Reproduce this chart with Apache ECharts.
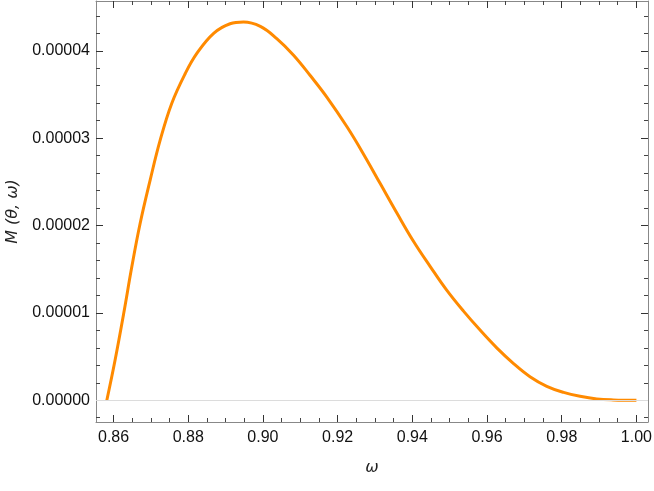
<!DOCTYPE html>
<html lang="en">
<head>
    <meta charset="UTF-8">
    <title>M(theta, omega)</title>
    <script src="https://cdn.jsdelivr.net/npm/echarts@6.0.0/dist/echarts.min.js"></script>
</head>
<body style="margin: 0; background: #fff;">
<div id="container" style="width: 654px; height: 491px;"></div>
<script type="text/javascript">

    // values (omega, M)
    let omega = [0.8582, 0.8604, 0.8627, 0.8649, 0.8671, 0.8698, 0.8725, 0.8756, 0.8792, 0.8823,
        0.8868, 0.8912, 0.8948, 0.8993, 0.9037, 0.9082, 0.9126, 0.9171, 0.9225, 0.9269,
        0.9314, 0.9359, 0.9403, 0.9448, 0.9492, 0.9537, 0.9582, 0.9626, 0.9671, 0.9715,
        0.9760, 0.9805, 0.9849, 0.9894, 0.9938, 1.0000];
    let mValues = [0, 0.458e-5, 0.99e-5, 1.53e-5, 2.02e-5, 2.52e-5, 2.98e-5, 3.40e-5, 3.74e-5, 3.97e-5,
        4.20e-5, 4.31e-5, 4.33e-5, 4.28e-5, 4.14e-5, 3.95e-5, 3.72e-5, 3.47e-5, 3.13e-5, 2.82e-5,
        2.48e-5, 2.14e-5, 1.82e-5, 1.53e-5, 1.26e-5, 1.02e-5, 0.80e-5, 0.60e-5, 0.42e-5, 0.27e-5,
        0.16e-5, 0.09e-5, 0.045e-5, 0.015e-5, 0.004e-5, 0];

    let xTicks = [0.86, 0.88, 0.90, 0.92, 0.94, 0.96, 0.98, 1.00];
    let xMinorTicks = [0.865, 0.87, 0.875, 0.885, 0.89, 0.895, 0.905, 0.91, 0.915, 0.925, 0.93, 0.935,
        0.945, 0.95, 0.955, 0.965, 0.97, 0.975, 0.985, 0.99, 0.995];
    let yTicks = [0, 0.00001, 0.00002, 0.00003, 0.00004];
    let yMinorTicks = [-0.000002, 0.000002, 0.000004, 0.000006, 0.000008, 0.000012, 0.000014, 0.000016,
        0.000018, 0.000022, 0.000024, 0.000026, 0.000028, 0.000032, 0.000034, 0.000036, 0.000038,
        0.000042, 0.000044];

    let xMin = 0.8553, xMax = 1.0031;
    let yMin = -0.00000249, yMax = 0.0000457;

    let labelFont = "'Liberation Sans', Arial, sans-serif";

    function makeX(pos, ticks, len, labels, line, color) {
        return {
            type: 'value', position: pos, min: xMin, max: xMax, gridIndex: 0,
            axisLine: {show: line, onZero: false, lineStyle: {color: '#888888', width: 1}},
            axisTick: {show: true, inside: true, length: len, customValues: ticks,
                lineStyle: {color: color, width: 1}},
            axisLabel: labels ? {show: true, customValues: ticks, margin: 8, color: '#111',
                fontFamily: labelFont, fontSize: 16,
                formatter: function (v) { return v.toFixed(2); }} : {show: false},
            splitLine: {show: false}
        };
    }

    function makeY(pos, ticks, len, labels, line, color) {
        return {
            type: 'value', position: pos, min: yMin, max: yMax, gridIndex: 0,
            axisLine: {show: line, onZero: false, lineStyle: {color: '#888888', width: 1}},
            axisTick: {show: true, inside: true, length: len, customValues: ticks,
                lineStyle: {color: color, width: 1}},
            axisLabel: labels ? {show: true, customValues: ticks, margin: 6, color: '#111',
                fontFamily: labelFont, fontSize: 16,
                formatter: function (v) { return v.toFixed(5); }} : {show: false},
            splitLine: {show: false}
        };
    }

    let xBottom = makeX('bottom', xTicks, 7, true, true, '#333333');
    xBottom.name = 'ω';
    xBottom.nameLocation = 'middle';
    xBottom.nameGap = 38;
    xBottom.nameTextStyle = {fontFamily: "'DejaVu Sans', sans-serif", fontStyle: 'italic', fontSize: 16, color: '#222'};

    let yLeft = makeY('left', yTicks, 7, true, true, '#333333');
    yLeft.name = 'M (θ, ω)';
    yLeft.nameLocation = 'middle';
    yLeft.nameGap = 67;
    yLeft.nameTextStyle = {fontFamily: "'DejaVu Sans', sans-serif", fontStyle: 'italic', fontSize: 16, color: '#222'};

    let dom = document.getElementById("container");
    let myChart = echarts.init(dom, null, {renderer: 'canvas'});

    let option = {
        animation: false,
        backgroundColor: '#ffffff',
        grid: {left: 96, right: 6, top: 1, bottom: 69, outerBoundsMode: 'none'},
        xAxis: [
            xBottom,
            makeX('bottom', xMinorTicks, 4, false, false, '#444444'),
            makeX('top', xTicks, 7, false, true, '#333333'),
            makeX('top', xMinorTicks, 4, false, false, '#444444')
        ],
        yAxis: [
            yLeft,
            makeY('left', yMinorTicks, 4, false, false, '#444444'),
            makeY('right', yTicks, 7, false, true, '#333333'),
            makeY('right', yMinorTicks, 4, false, false, '#444444')
        ],
        series: [{
            type: 'line',
            xAxisIndex: 0,
            yAxisIndex: 0,
            data: omega.map(function (w, i) { return [w, mValues[i]]; }),
            smooth: 0.4,
            showSymbol: false,
            lineStyle: {color: '#ff8a00', width: 3},
            markLine: {
                silent: true,
                symbol: 'none',
                label: {show: false},
                lineStyle: {color: '#dcdcdc', width: 1, type: 'solid'},
                data: [{yAxis: 0}]
            },
            z: 3
        }]
    };
    myChart.setOption(option, true);

</script>
</body>
</html>
